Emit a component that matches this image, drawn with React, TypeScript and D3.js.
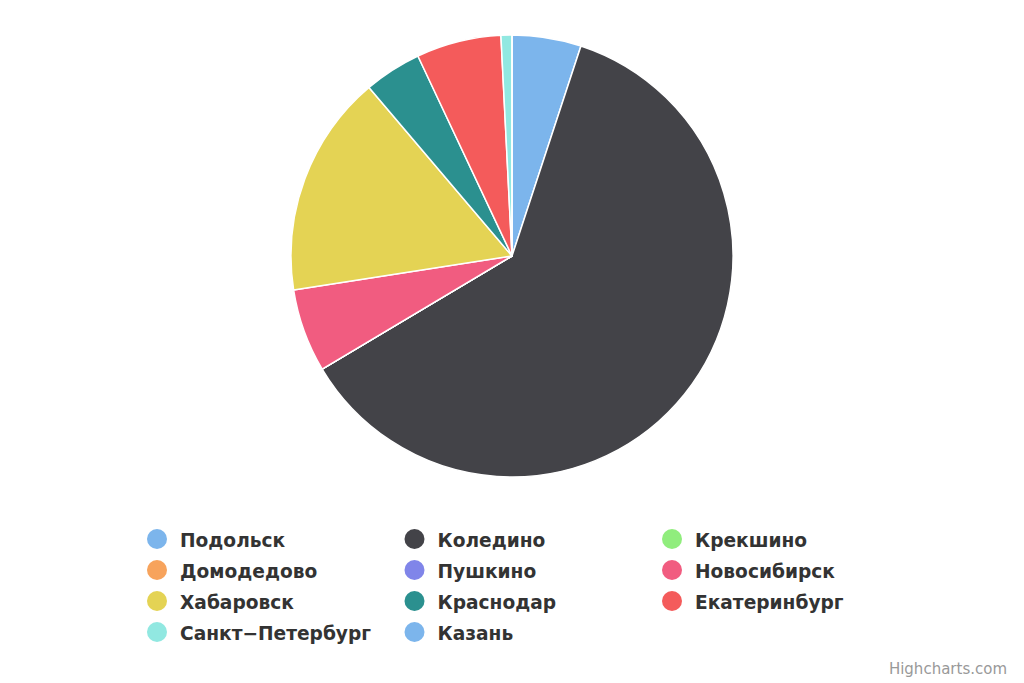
import * as d3 from "d3";

// Chart data (percent shares)
const cities: string[] = [
  "Подольск",
  "Коледино",
  "Крекшино",
  "Домодедово",
  "Пушкино",
  "Новосибирск",
  "Хабаровск",
  "Краснодар",
  "Екатеринбург",
  "Санкт\u2212Петербург",
  "Казань",
];
const shares: number[] = [5.05, 61.4, 0, 0, 0, 6.1, 16.25, 4.2, 6.2, 0.8, 0];
const palette: string[] = [
  "#7cb5ec",
  "#434348",
  "#90ed7d",
  "#f7a35c",
  "#8085e9",
  "#f15c80",
  "#e4d354",
  "#2b908f",
  "#f45b5b",
  "#91e8e1",
];
const creditText = "Highcharts.com";

type Slice = { name: string; value: number; color: string };

const width = 1024;
const height = 683;
const center = { x: 512, y: 256 };
const radius = 221;
const legend = { left: 157, top: 539, colWidth: 257.5, rowHeight: 31, columns: 3 };

export default function App() {
  const data: Slice[] = cities.map((name, i) => ({
    name,
    value: shares[i],
    color: palette[i % palette.length],
  }));

  // Pie layout, clockwise from 12 o'clock like Highcharts
  const pie = d3
    .pie<Slice>()
    .sort(null)
    .value((d) => d.value);
  const arc = d3.arc<d3.PieArcDatum<Slice>>().innerRadius(0).outerRadius(radius);
  const arcs = pie(data);

  // Legend grid
  const colX = d3
    .scaleLinear()
    .domain([0, 1])
    .range([legend.left, legend.left + legend.colWidth]);
  const rowY = d3
    .scaleLinear()
    .domain([0, 1])
    .range([legend.top, legend.top + legend.rowHeight]);

  return (
    <svg
      width={width}
      height={height}
      style={{ position: "absolute", left: 0, top: 0, background: "#fff" }}
      fontFamily="'DejaVu Sans', Verdana, sans-serif"
    >
      <g transform={`translate(${center.x}, ${center.y})`}>
        {arcs.map((a, i) => (
          <path
            key={i}
            d={arc(a) ?? ""}
            fill={a.data.color}
            stroke="#ffffff"
            strokeWidth={1.5}
            strokeLinejoin="round"
          />
        ))}
      </g>

      <g>
        {data.map((d, i) => {
          const cx = colX(i % legend.columns);
          const cy = rowY(Math.floor(i / legend.columns));
          return (
            <g key={d.name}>
              <circle cx={cx} cy={cy} r={10} fill={d.color} />
              <text
                x={cx + 23}
                y={cy + 7.5}
                fontSize={18.6}
                fontWeight="bold"
                fill="#333333"
              >
                {d.name}
              </text>
            </g>
          );
        })}
      </g>

      <text x={1007} y={674} textAnchor="end" fontSize={15} fill="#999999">
        {creditText}
      </text>
    </svg>
  );
}
